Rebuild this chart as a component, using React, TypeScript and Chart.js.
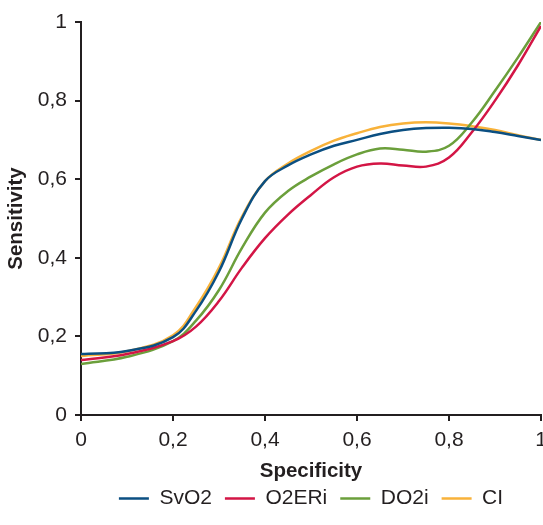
import React, { useEffect, useRef } from "react";
import { Chart, registerables } from "chart.js";
Chart.register(...registerables);

const xs = [0, 0.1, 0.2, 0.25, 0.3, 0.35, 0.4, 0.45, 0.5, 0.55, 0.6, 0.65, 0.7, 0.75, 0.8, 0.85, 0.9, 0.95, 1];
const svo2 = [0.155, 0.163, 0.198, 0.265, 0.365, 0.5, 0.595, 0.635, 0.663, 0.685, 0.7, 0.715, 0.725, 0.73, 0.731, 0.728, 0.72, 0.71, 0.7];
const o2eri = [0.14, 0.155, 0.188, 0.225, 0.29, 0.375, 0.45, 0.51, 0.56, 0.605, 0.632, 0.64, 0.635, 0.632, 0.655, 0.72, 0.8, 0.89, 0.99];
const do2i = [0.13, 0.148, 0.188, 0.24, 0.318, 0.425, 0.515, 0.57, 0.607, 0.638, 0.663, 0.678, 0.675, 0.67, 0.685, 0.745, 0.825, 0.91, 1.0];
const ci = [0.15, 0.162, 0.203, 0.275, 0.375, 0.505, 0.595, 0.64, 0.672, 0.698, 0.717, 0.733, 0.742, 0.745, 0.742, 0.735, 0.725, 0.712, 0.7];

const seriesNames = ["SvO2", "O2ERi", "DO2i", "CI"];
const seriesColors = ["#0b4f82", "#d31545", "#6b9f3b", "#f8b23a"];
const seriesValues = [svo2, o2eri, do2i, ci];

const fmt = (v: number) => (v === 0 ? "0" : v === 1 ? "1" : v.toFixed(1).replace(".", ","));

export default function App() {
  const ref = useRef<HTMLCanvasElement>(null);
  useEffect(() => {
    document.body.style.margin = "0";
    const ink = "#231f20";
    const fam = "Liberation Sans";
    const chart = new Chart(ref.current!, {
      type: "line",
      data: {
        datasets: seriesNames.map((name, i) => ({
          label: name,
          data: xs.map((x, j) => ({ x, y: seriesValues[i][j] })),
          borderColor: seriesColors[i],
          backgroundColor: seriesColors[i],
          borderWidth: 2.5,
          pointRadius: 0,
          tension: 0.4,
          fill: false,
        })),
      },
      options: {
        animation: false,
        responsive: false,
        layout: { padding: { top: 22, right: 0, left: 0, bottom: 6 } },
        plugins: {
          tooltip: { enabled: false },
          legend: {
            position: "bottom",
            fullSize: false,
            labels: {
              usePointStyle: true,
              pointStyle: "line",
              pointStyleWidth: 30,
              color: ink,
              font: { family: fam, size: 21 },
              padding: 13,
            },
          },
        },
        scales: {
          x: {
            type: "linear",
            min: 0,
            max: 1,
            afterFit: (s: any) => { s.height = 60; s.paddingRight = 2; s.paddingLeft = 0; },
            ticks: {
              stepSize: 0.2,
              color: ink,
              font: { family: fam, size: 21 },
              padding: 7,
              maxRotation: 0,
              callback: (v: any) => fmt(Number(v)),
            },
            grid: { drawOnChartArea: false, drawTicks: true, tickLength: 6, color: ink, lineWidth: 2 },
            border: { display: true, color: ink, width: 2 },
            title: { display: true, text: "Specificity", color: ink, font: { family: fam, size: 20.5, weight: "bold" }, padding: { top: 0, bottom: -9 } },
          },
          y: {
            type: "linear",
            min: 0,
            max: 1,
            afterFit: (s: any) => { s.width = 81; },
            ticks: {
              stepSize: 0.2,
              color: ink,
              font: { family: fam, size: 21 },
              padding: 8,
              callback: (v: any) => fmt(Number(v)),
            },
            grid: { drawOnChartArea: false, drawTicks: true, tickLength: 6, color: ink, lineWidth: 2 },
            border: { display: true, color: ink, width: 2 },
            title: { display: true, text: "Sensitivity", color: ink, font: { family: fam, size: 20.5, weight: "bold" }, padding: { top: 4, bottom: 0 } },
          },
        },
      },
    } as any);
    return () => chart.destroy();
  }, []);
  return <canvas ref={ref} width={543} height={525} style={{ display: "block" }} />;
}
